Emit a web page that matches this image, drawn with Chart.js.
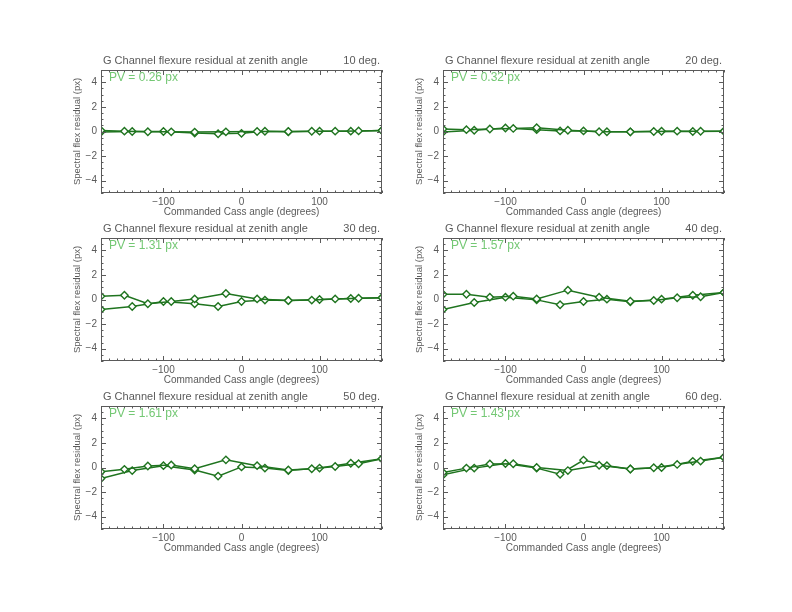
<!DOCTYPE html>
<html>
<head>
<meta charset="utf-8">
<script src="https://cdn.jsdelivr.net/npm/chart.js@4"></script>
<style>
  body { margin: 0; background: #fff; }
  #page { position: relative; width: 792px; height: 612px; overflow: hidden; }
  canvas { position: absolute; }
</style>
</head>
<body>
<div id="page"></div>
<script>
// x positions of the two scans (outgoing / return)
const xA = [-180, -150, -120, -90, -60, -20, 20, 60, 90, 120, 150, 180];
const xB = [-180, -140, -100, -60, -30, 0, 30, 60, 100, 140, 180];

const zenith = [10, 20, 30, 40, 50, 60];
const pvText = ['0.26', '0.32', '1.31', '1.57', '1.61', '1.43'];

const a10 = [0.08, 0.03, -0.02, -0.03, -0.05, -0.03, 0.00, 0.00, 0.02, 0.03, 0.05, 0.08];
const b10 = [-0.05, 0.00, 0.00, -0.12, -0.18, -0.15, 0.02, -0.02, 0.03, 0.03, 0.08];
const a20 = [0.20, 0.15, 0.20, 0.25, 0.30, 0.10, -0.02, -0.03, 0.00, 0.03, 0.02, 0.03];
const b20 = [-0.05, 0.10, 0.28, 0.15, 0.05, 0.05, -0.02, -0.03, 0.02, 0.00, 0.03];
const a30 = [0.27, 0.35, -0.35, -0.16, 0.05, 0.49, 0.05, -0.08, -0.05, 0.05, 0.10, 0.15];
const b30 = [-0.81, -0.57, -0.16, -0.35, -0.57, -0.16, -0.05, -0.08, 0.00, 0.08, 0.15];
const a40 = [0.43, 0.43, 0.19, 0.27, 0.05, 0.76, 0.19, -0.14, -0.08, 0.14, 0.22, 0.57];
const b40 = [-0.81, -0.24, 0.19, -0.03, -0.43, -0.16, 0.03, -0.19, 0.03, 0.35, 0.57];
const a50 = [-0.35, -0.15, 0.12, 0.20, -0.10, 0.62, 0.15, -0.20, -0.10, 0.08, 0.30, 0.71];
const b50 = [-0.90, -0.25, 0.15, -0.20, -0.70, 0.05, -0.05, -0.25, -0.05, 0.35, 0.71];
const a60 = [-0.40, -0.05, 0.28, 0.30, 0.00, -0.25, 0.18, -0.12, -0.02, 0.25, 0.52, 0.83];
const b60 = [-0.60, -0.05, 0.32, -0.05, -0.55, 0.60, 0.15, -0.12, 0.00, 0.50, 0.83];

const seriesA = [a10, a20, a30, a40, a50, a60];
const seriesB = [b10, b20, b30, b40, b50, b60];

const xTicks = [-100, 0, 100];
const yTicks = [-4, -2, 0, 2, 4];

const axisColor = '#5a5a5a';
const lineColor = '#1f741f';
const pvColor = '#74c874';
const fontFam = '"Liberation Sans", Arial, sans-serif';

const minus = v => v < 0 ? '\u2212' + Math.abs(v) : '' + v;

// box with inward major/minor ticks on all four sides, IDL style
const boxPlugin = {
    id: 'box',
    afterDatasetsDraw(chart, args, opts) {
        const ctx = chart.ctx, a = chart.chartArea;
        const xs = chart.scales.x, ys = chart.scales.y;
        ctx.save();
        ctx.strokeStyle = axisColor;
        ctx.lineWidth = 1;
        ctx.strokeRect(a.left + 0.5, a.top + 0.5, a.right - a.left - 1, a.bottom - a.top - 1);
        ctx.beginPath();
        for (let v = -180; v <= 180; v += 10) {
            const px = Math.round(xs.getPixelForValue(v)) + 0.5;
            const len = v % 100 === 0 ? 5 : 2.5;
            ctx.moveTo(px, a.bottom); ctx.lineTo(px, a.bottom - len);
            ctx.moveTo(px, a.top); ctx.lineTo(px, a.top + len);
        }
        for (let v = -5; v <= 5; v += 0.5) {
            const py = Math.round(ys.getPixelForValue(v)) + 0.5;
            const len = v % 2 === 0 ? 5 : 2.5;
            ctx.moveTo(a.left, py); ctx.lineTo(a.left + len, py);
            ctx.moveTo(a.right, py); ctx.lineTo(a.right - len, py);
        }
        ctx.stroke();

        ctx.font = '11px ' + fontFam;
        ctx.fillStyle = axisColor;
        ctx.textBaseline = 'middle';
        ctx.textAlign = 'left';
        ctx.fillText('G Channel flexure residual at zenith angle', a.left + 2, a.top - 9);
        ctx.textAlign = 'right';
        ctx.fillText(opts.angle + ' deg.', a.right - 2, a.top - 9);

        ctx.font = '12px ' + fontFam;
        ctx.fillStyle = pvColor;
        ctx.textAlign = 'left';
        ctx.fillText('PV = ' + opts.pv + ' px', a.left + 8, a.top + 8);
        ctx.restore();
    }
};

const page = document.getElementById('page');
const W = 340, H = 180;

zenith.forEach((ang, i) => {
    const col = i % 2, row = Math.floor(i / 2);
    const cv = document.createElement('canvas');
    cv.width = W; cv.height = H;
    cv.style.left = (col === 0 ? 50 : 391.5) + 'px';
    cv.style.top = (40 + row * 168) + 'px';
    page.appendChild(cv);

    const mk = (xs, ys) => xs.map((x, k) => ({ x: x, y: ys[k] }));
    const ds = (pts) => ({
        data: pts,
        borderColor: lineColor,
        borderWidth: 1.5,
        pointStyle: 'rectRot',
        pointRadius: 3.7,
        pointBorderWidth: 1.4,
        pointBorderColor: lineColor,
        pointBackgroundColor: '#ffffff',
        tension: 0
    });

    new Chart(cv, {
        type: 'line',
        data: { datasets: [ds(mk(xA, seriesA[i])), ds(mk(xB, seriesB[i]))] },
        options: {
            responsive: false,
            animation: false,
            layout: { padding: { top: 30, right: 8, left: 0, bottom: 0 } },
            plugins: {
                legend: { display: false },
                tooltip: { enabled: false },
                box: { angle: ang, pv: pvText[i] }
            },
            scales: {
                x: {
                    type: 'linear',
                    min: -180, max: 180,
                    afterBuildTicks: s => { s.ticks = xTicks.map(v => ({ value: v })); },
                    afterFit: s => { s.height = 27; },
                    grid: { display: false, drawTicks: false },
                    border: { display: false },
                    ticks: {
                        padding: 3, maxRotation: 0,
                        color: axisColor,
                        font: { family: fontFam, size: 10 },
                        callback: minus
                    },
                    title: {
                        display: true,
                        text: 'Commanded Cass angle (degrees)',
                        color: axisColor,
                        padding: { top: 0, bottom: 2 },
                        font: { family: fontFam, size: 10 }
                    }
                },
                y: {
                    min: -5, max: 5,
                    afterBuildTicks: s => { s.ticks = yTicks.map(v => ({ value: v })); },
                    afterFit: s => { s.width = 51; },
                    grid: { display: false, drawTicks: false },
                    border: { display: false },
                    ticks: {
                        padding: 4,
                        color: axisColor,
                        font: { family: fontFam, size: 10 },
                        callback: minus
                    },
                    title: {
                        display: true,
                        text: 'Spectral flex residual (px)',
                        color: axisColor,
                        padding: { top: 22, bottom: 0 },
                        font: { family: fontFam, size: 9.5 }
                    }
                }
            }
        },
        plugins: [boxPlugin]
    });
});
</script>
</body>
</html>
